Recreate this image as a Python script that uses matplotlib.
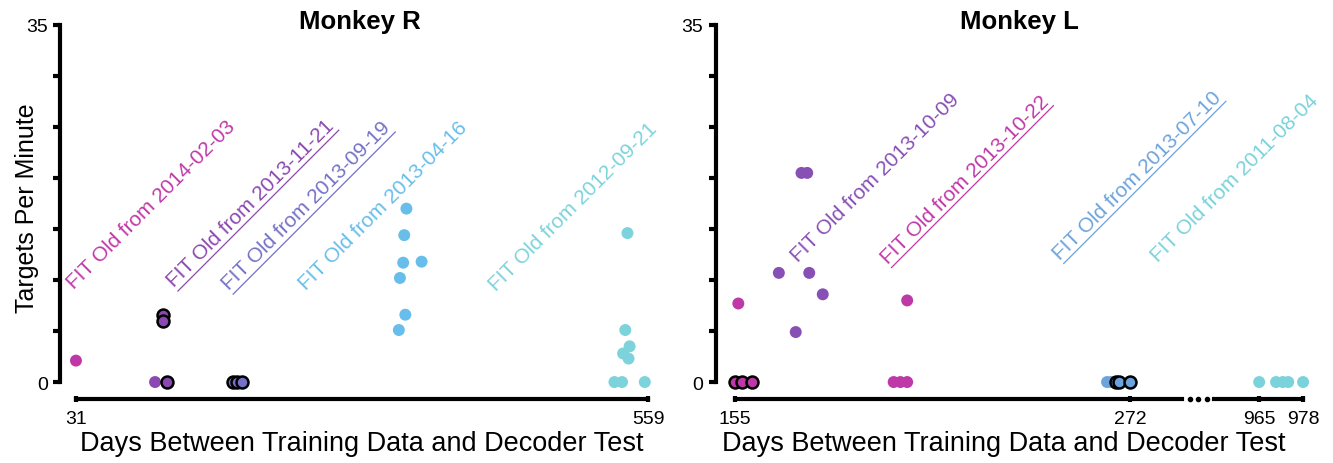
import numpy as np
import matplotlib
matplotlib.use('Agg')
import matplotlib.pyplot as plt
from matplotlib.lines import Line2D

plt.rcParams['font.family'] = ['Liberation Sans', 'DejaVu Sans']

# ---- Monkey R ----
r_labels = ['FIT Old from 2014-02-03', 'FIT Old from 2013-11-21', 'FIT Old from 2013-09-19',
            'FIT Old from 2013-04-16', 'FIT Old from 2012-09-21']
r_colors = ['#C038A8', '#8B48B1', '#7471C7', '#67BEEA', '#7CD3DB']
r_days = [[31],
          [104, 111, 111, 115],
          [176, 180, 184],
          [336, 334, 333, 350, 330, 335, 329],
          [540, 538, 542, 536, 541, 528, 535, 556]]
r_tpm = [[2.1],
         [0, 6.6, 6.0, 0],
         [0, 0, 0],
         [17.0, 14.4, 11.7, 11.8, 10.2, 6.6, 5.1],
         [14.6, 5.1, 3.5, 2.8, 2.3, 0, 0, 0]]
r_edged = [[0],
           [0, 1, 1, 1],
           [1, 1, 1],
           [0, 0, 0, 0, 0, 0, 0],
           [0, 0, 0, 0, 0, 0, 0, 0]]
r_underlined = [False, True, True, False, False]
r_xticks = [31, 559]

# ---- Monkey L ----
l_labels = ['FIT Old from 2013-10-09', 'FIT Old from 2013-10-22',
            'FIT Old from 2013-07-10', 'FIT Old from 2011-08-04']
l_colors = ['#8750B4', '#BF38A8', '#6CA3DD', '#7AD2DA']
l_days = [[168, 174.7, 176.4, 177, 181, 173],
          [156, 206, 155, 157, 160, 202, 204, 206],
          [265.2, 266.4, 267.9, 268.7, 272],
          [965, 970, 972, 973.6, 978]]
l_tpm = [[10.7, 20.5, 20.5, 10.7, 8.6, 4.9],
         [7.7, 8.0, 0, 0, 0, 0, 0, 0],
         [0, 0, 0, 0, 0],
         [0, 0, 0, 0, 0]]
l_edged = [[0, 0, 0, 0, 0, 0],
           [0, 0, 1, 1, 1, 0, 0, 0],
           [0, 0, 1, 1, 1],
           [0, 0, 0, 0, 0]]
l_underlined = [False, True, True, False]
l_xticks = [155, 272, 965, 978]

# label anchor points (baseline start, data coords) -- layout only
r_label_xy = [(29.5, 9.1), (121.5, 9.3), (172.5, 9.0), (243.5, 9.0), (418.5, 8.9)]
l_label_xy = [(173.7, 11.8), (200.2, 11.6), (251.2, 12.0), (280.2, 11.8)]

W, H = 1333, 464
fig = plt.figure(figsize=(W / 100, H / 100), dpi=100)
Y0, Y1 = 26, 391.2


def add_ax(x0, x1):
    return fig.add_axes([x0 / W, 1 - Y1 / H, (x1 - x0) / W, (Y1 - Y0) / H])


def style(ax, xlim, bounds, with_y=True):
    ax.set_xlim(*xlim)
    ax.set_ylim(-0.8, 35)
    ax.patch.set_visible(False)
    for s in ['top', 'right']:
        ax.spines[s].set_visible(False)
    sb = ax.spines['bottom']
    sb.set_position(('outward', 6.5))
    sb.set_linewidth(3)
    sb.set_bounds(*bounds)
    ax.tick_params(axis='x', direction='inout', length=5, width=3, labelsize=14, pad=5.5)
    if with_y:
        sl = ax.spines['left']
        sl.set_position(('outward', 7))
        sl.set_linewidth(3)
        sl.set_bounds(0, 35)
        ax.set_yticks(range(0, 36, 5))
        ax.set_yticklabels(['0', '', '', '', '', '', '', '35'])
        ax.tick_params(axis='y', direction='out', length=5, width=3, labelsize=14, pad=4)
    else:
        ax.spines['left'].set_visible(False)
        ax.set_yticks([])


def draw_points(ax, days, tpm, edged, color, keep=None):
    d = np.array(days, float)
    t = np.array(tpm, float)
    e = np.array(edged, bool)
    m = np.ones(len(d), bool) if keep is None else keep(d)
    if (m & ~e).any():
        ax.scatter(d[m & ~e], t[m & ~e], s=74, color=color, edgecolors='none',
                   clip_on=False, zorder=3)
    if (m & e).any():
        ax.scatter(d[m & e], t[m & e], s=74, color=color, edgecolors='black',
                   linewidths=1.8, clip_on=False, zorder=4)


underlines = []

# left panel
axR = add_ax(70, 654)
style(axR, (25.5, 564.5), (31, 559))
axR.set_xticks(r_xticks)
for lab, c, dd, tt, ee, (lx, ly), ul in zip(r_labels, r_colors, r_days, r_tpm, r_edged,
                                           r_label_xy, r_underlined):
    draw_points(axR, dd, tt, ee, c)
    txt = axR.text(lx, ly, lab, color=c, fontsize=15, rotation=45, rotation_mode='anchor',
                   ha='left', va='baseline', clip_on=False)
    if ul:
        underlines.append((axR, txt))
axR.set_ylabel('Targets Per Minute', fontsize=18, labelpad=-9)

# right panel, broken x axis
axA = add_ax(725.5, 1181.7)
axB = add_ax(1214.3, 1310)
style(axA, (152.2, 287.3), (155, 287.3))
style(axB, (951.7, 980.05), (951.7, 978), with_y=False)
axA.set_xticks([t for t in l_xticks if t < 600])
axB.set_xticks([t for t in l_xticks if t > 600])
for lab, c, dd, tt, ee, (lx, ly), ul in zip(l_labels, l_colors, l_days, l_tpm, l_edged,
                                           l_label_xy, l_underlined):
    draw_points(axA, dd, tt, ee, c, keep=lambda d: d < 600)
    draw_points(axB, dd, tt, ee, c, keep=lambda d: d > 600)
    txt = axA.text(lx, ly, lab, color=c, fontsize=15, rotation=45, rotation_mode='anchor',
                   ha='left', va='baseline', clip_on=False)
    if ul:
        underlines.append((axA, txt))

# dots marking the axis break
ya = 1 - (Y1 + 6.5 * 100 / 72) / H
xm = (1181.7 + 1214.3) / 2
fig.add_artist(Line2D([(xm - 8.5) / W, xm / W, (xm + 8.5) / W], [ya] * 3,
                      transform=fig.transFigure, ls='none', marker='o', ms=3,
                      color='black'))

# titles and x labels
fig.text(360 / W, 1 - 22 / H, 'Monkey R', ha='center', va='center', fontsize=18.5,
         fontweight='bold')
fig.text(1019 / W, 1 - 22 / H, 'Monkey L', ha='center', va='center', fontsize=18.5,
         fontweight='bold')
fig.text(362 / W, 1 - 444 / H, 'Days Between Training Data and Decoder Test',
         ha='center', va='center', fontsize=19.5)
fig.text(1004 / W, 1 - 444 / H, 'Days Between Training Data and Decoder Test',
         ha='center', va='center', fontsize=19.5)

# underline some of the labels
fig.canvas.draw()
rend = fig.canvas.get_renderer()
c45 = np.sqrt(0.5)
for ax, txt in underlines:
    w, h, d = rend.get_text_width_height_descent(txt.get_text(), txt.get_fontproperties(),
                                                 ismath=False)
    x0, y0 = ax.transData.transform(txt.get_position())
    off = 5.5
    sx, sy = x0 + off * c45, y0 - off * c45
    ex, ey = sx + w * c45, sy + w * c45
    (fx0, fy0), (fx1, fy1) = fig.transFigure.inverted().transform([(sx, sy), (ex, ey)])
    fig.add_artist(Line2D([fx0, fx1], [fy0, fy1], transform=fig.transFigure,
                          color=txt.get_color(), lw=0.9))

fig.savefig('out.png', dpi=100)
